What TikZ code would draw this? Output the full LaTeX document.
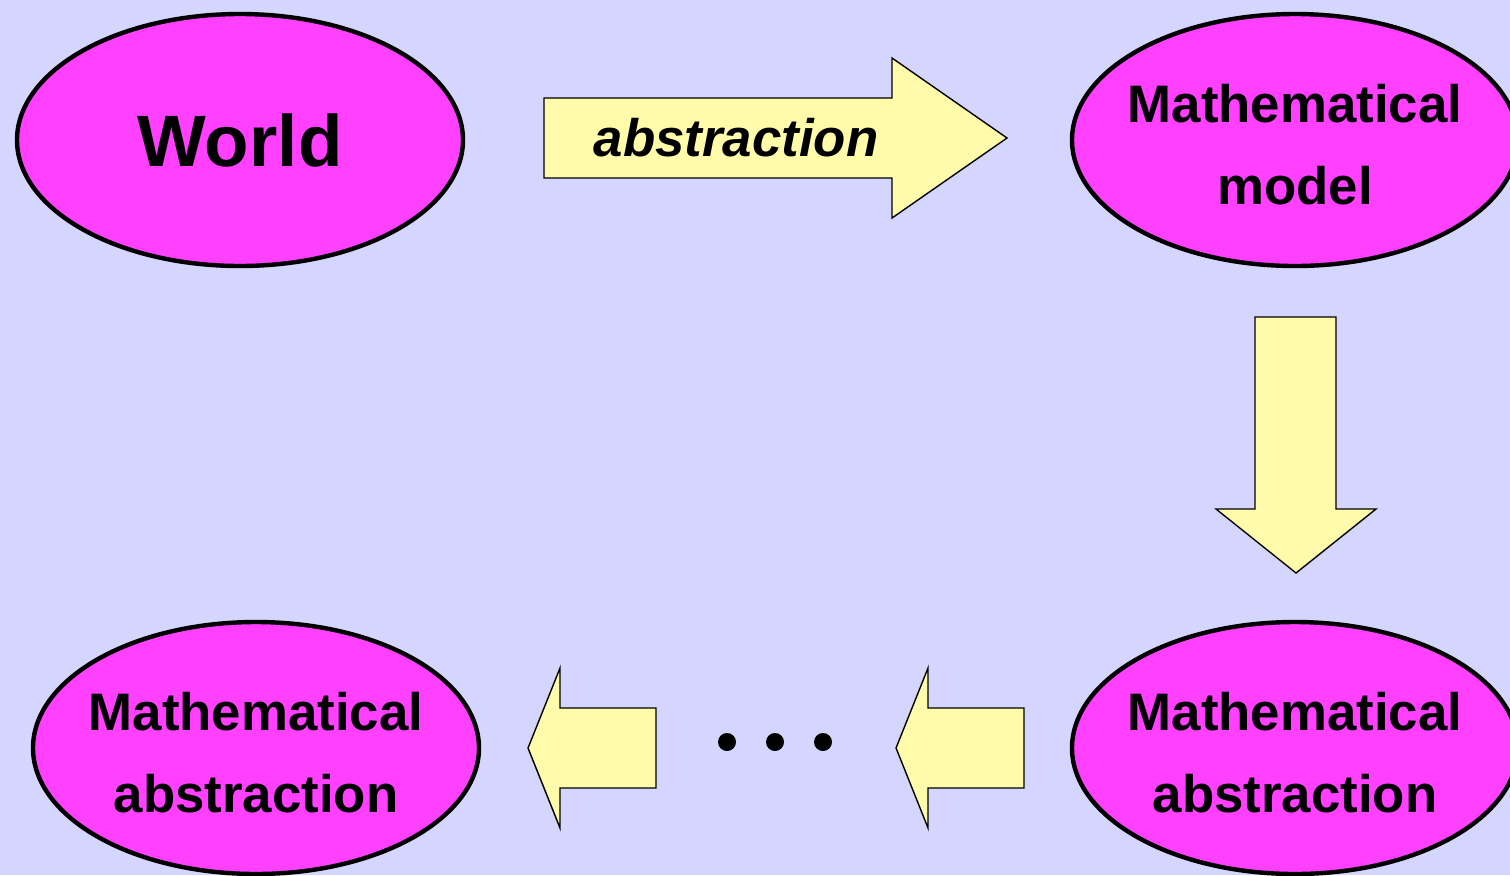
\documentclass[tikz,border=0pt]{standalone}
\usepackage{fontspec}
\setmainfont{Liberation Sans}
\usetikzlibrary{shapes.geometric}
\definecolor{bgLavender}{RGB}{213,214,255}
\definecolor{blobMagenta}{RGB}{255,64,255}
\definecolor{arrowYellow}{RGB}{255,251,170}
\newcommand{\toprule}{\rule{0pt}{24pt}}
\tikzset{
  blob/.style={ellipse, draw=black, fill=blobMagenta, line width=2.2pt,
               minimum width=223pt, minimum height=126pt, align=center,
               inner xsep=-6pt, inner ysep=0pt,
               font=\bfseries\fontsize{26.4}{41}\selectfont},
  blockarrow/.style={draw=black, fill=arrowYellow, line width=0.7pt, line join=miter},
  dot/.style={circle, fill=black, inner sep=0pt, minimum size=9pt}
}

\begin{document}
\begin{tikzpicture}[x=0.5pt, y=-0.5pt]
\useasboundingbox (0,0) rectangle (1510,875);
\clip (0,0) rectangle (1510,875);
\fill[bgLavender] (0,0) rectangle (1510,875);

% the four ellipses
\node[blob, font=\bfseries\fontsize{36.4}{44}\selectfont] (world) at (240,140) {World};
\node[blob] (model) at (1295,140) {\toprule Mathematical\\model};
\node[blob] (absRight) at (1295,748) {\toprule Mathematical\\abstraction};
\node[blob] (absLeft) at (256,748) {\toprule Mathematical\\abstraction};

% abstraction arrow
\draw[blockarrow] (544,98) -- (892,98) -- (892,58) -- (1007,138) -- (892,218)
  -- (892,178) -- (544,178) -- cycle;
\node[font=\bfseries\itshape\fontsize{26.4}{41}\selectfont] (abstr) at (736,138) {abstraction};

% down arrow
\draw[blockarrow] (1255,317) -- (1336,317) -- (1336,509) -- (1376,509) -- (1296,573)
  -- (1216,509) -- (1255,509) -- cycle;

% left arrows
\foreach \tx in {528,896}
  \draw[blockarrow] (\tx,748) -- ++(32,-80) -- ++(0,40) -- ++(96,0) -- ++(0,80)
    -- ++(-96,0) -- ++(0,40) -- cycle;

% dots
\foreach \dx in {727,775,823}
  \node[dot] (dot\dx) at (\dx,742) {};
\end{tikzpicture}
\end{document}
